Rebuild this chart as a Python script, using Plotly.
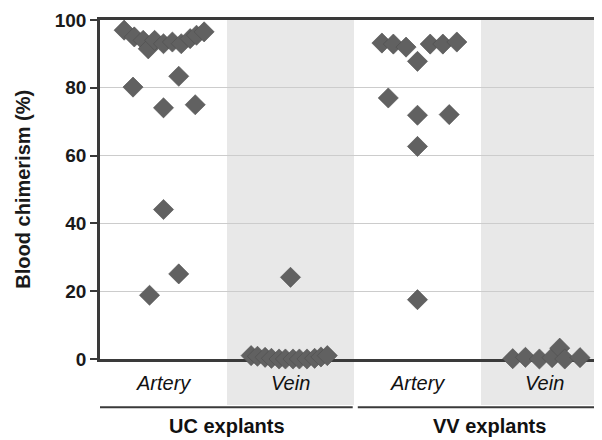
import plotly.graph_objects as go

# ---------------- data ----------------
categories = ["Artery", "Vein", "Artery", "Vein"]
groups = ["UC explants", "VV explants"]
y_ticks = [0, 20, 40, 60, 80, 100]
y_title = "Blood chimerism (%)"

uc_artery = [97, 95, 94, 91.5, 94, 93, 93.5, 93, 94.5, 95.5, 96.5,
             80.2, 83.4, 74.1, 75.0, 44.1, 25.1, 18.8]
uc_artery_offset = [-0.31, -0.23, -0.16, -0.12, -0.07, 0.0, 0.07, 0.14, 0.21, 0.26, 0.32,
                    -0.24, 0.12, 0.0, 0.25, 0.0, 0.12, -0.11]

uc_vein = [24.1, 1.0, 0.8, 0.5, 0.2, 0.0, 0.0, 0.0, 0.0, 0.0, 0.2, 0.6, 1.0]
uc_vein_offset = [0.0, -0.31, -0.26, -0.20, -0.15, -0.09, -0.04, 0.02, 0.07, 0.13, 0.19, 0.24, 0.29]

vv_artery = [93.2, 92.9, 92.0, 87.8, 92.9, 92.9, 93.5, 77.0, 71.9, 72.1, 62.7, 17.5]
vv_artery_offset = [-0.28, -0.19, -0.09, 0.0, 0.10, 0.20, 0.31, -0.23, 0.0, 0.25, 0.0, 0.0]

vv_vein = [0.1, 0.5, 0.0, 0.4, 3.2, 0.0, 0.4]
vv_vein_offset = [-0.25, -0.15, -0.04, 0.06, 0.12, 0.16, 0.28]

series = [uc_artery, uc_vein, vv_artery, vv_vein]
offsets = [uc_artery_offset, uc_vein_offset, vv_artery_offset, vv_vein_offset]

# ---------------- styling ----------------
FONT = "Liberation Sans, Arial, sans-serif"
DARK = "#3a3a3a"
MARK = "#616161"
BAND = "#e8e8e8"
X_RANGE = [-0.5, 3.453]


def xpaper(xd):
    return (xd - X_RANGE[0]) / (X_RANGE[1] - X_RANGE[0])


fig = go.Figure()

for i, (vals, offs) in enumerate(zip(series, offsets)):
    fig.add_trace(go.Scatter(
        x=[i + o for o in offs],
        y=vals,
        mode="markers",
        marker=dict(symbol="diamond", size=15.5, color=MARK,
                    line=dict(color="#4f4f4f", width=0.6)),
        cliponaxis=False,
        showlegend=False,
        hoverinfo="y",
    ))

shapes = []
# gray bands behind the vein columns (extend under the category labels)
for i in (1, 3):
    shapes.append(dict(type="rect", xref="paper", yref="paper",
                       x0=xpaper(i - 0.5), x1=min(1.0, xpaper(i + 0.5)),
                       y0=-0.136, y1=1.0,
                       fillcolor=BAND, line=dict(width=0), layer="below"))
# group separator lines
shapes.append(dict(type="line", xref="paper", yref="paper",
                   x0=0.0, x1=xpaper(1.49), y0=-0.142, y1=-0.142,
                   line=dict(color=DARK, width=2)))
shapes.append(dict(type="line", xref="paper", yref="paper",
                   x0=xpaper(1.53), x1=1.0, y0=-0.142, y1=-0.142,
                   line=dict(color=DARK, width=2)))

annotations = []
for i, c in enumerate(categories):
    annotations.append(dict(x=i, y=-0.071, xref="x", yref="paper",
                            text="<i>%s</i>" % c,
                            showarrow=False, yanchor="middle",
                            font=dict(family=FONT, size=20, color="#111111")))
for g, xc in zip(groups, (0.5, 2.57)):
    annotations.append(dict(x=xc, y=-0.199, xref="x", yref="paper",
                            text="<b>%s</b>" % g, showarrow=False, yanchor="middle",
                            font=dict(family=FONT, size=20, color="#111111")))
annotations.append(dict(x=-0.155, y=0.5, xref="paper", yref="paper",
                        text="<b>%s</b>" % y_title, showarrow=False,
                        textangle=-90, xanchor="center", yanchor="middle",
                        font=dict(family=FONT, size=20, color="#1a1a1a")))

fig.update_layout(
    width=594, height=432,
    margin=dict(l=92, r=0, t=12, b=81),
    paper_bgcolor="white",
    plot_bgcolor="rgba(0,0,0,0)",
    shapes=shapes,
    annotations=annotations,
    xaxis=dict(range=X_RANGE, showgrid=False, zeroline=False,
               showticklabels=False, ticks="",
               showline=True, linecolor=DARK, linewidth=2.5, mirror=True,
               layer="below traces"),
    yaxis=dict(range=[0, 100], tickvals=y_ticks,
               ticktext=["<b>%d</b>" % v for v in y_ticks],
               tickfont=dict(family=FONT, size=19, color="#1a1a1a"),
               ticks="outside", ticklen=7, tickwidth=2, tickcolor=DARK,
               showline=True, linecolor=DARK, linewidth=2.5,
               showgrid=True, gridcolor="#cccccc", gridwidth=1,
               zeroline=False, layer="below traces"),
)

fig.write_html("out.html")
